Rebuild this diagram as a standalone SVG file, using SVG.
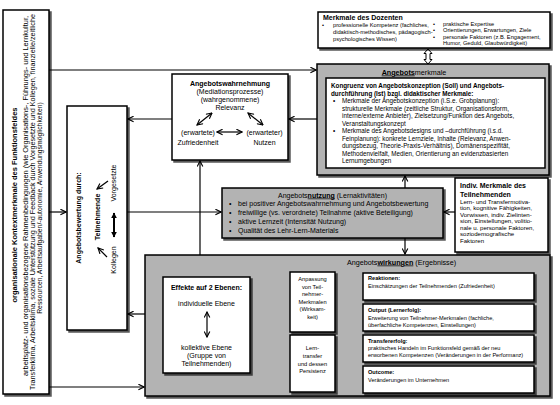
<svg xmlns="http://www.w3.org/2000/svg" width="560" height="405" viewBox="0 0 560 405">
<style>
text{font-family:"Liberation Sans",Arial,sans-serif;fill:#000}
.box{fill:#fff;stroke:#000;stroke-width:1.5;filter:url(#sh)}
.gbox{fill:#b3b3b3;stroke:#000;stroke-width:1.5;filter:url(#sh)}
.b{font-weight:bold}
.u{font-weight:bold;text-decoration:underline}
.c{text-anchor:middle}
.f7{font-size:7px}
.f6{font-size:6.3px}
.f57{font-size:5.7px}
.f55{font-size:5.6px}
.ln{fill:none;stroke:#000;stroke-width:1.2}
.arr{marker-end:url(#a)}
.dbl{marker-start:url(#a);marker-end:url(#a)}
</style>
<defs>
<filter id="sh" x="-10%" y="-10%" width="130%" height="130%">
<feDropShadow dx="2" dy="2" stdDeviation="0.7" flood-color="#000" flood-opacity="0.65"/>
</filter>
<marker id="a" viewBox="0 0 10 10" refX="9" refY="5" markerWidth="7" markerHeight="7" markerUnits="userSpaceOnUse" orient="auto-start-reverse">
<path d="M1,1 L9,5 L1,9" fill="none" stroke="#000" stroke-width="1.6"/>
</marker>
<marker id="f" viewBox="0 0 10 10" refX="9" refY="5" markerWidth="6" markerHeight="6" markerUnits="userSpaceOnUse" orient="auto-start-reverse">
<path d="M0,0 L10,5 L0,10 Z" fill="#000"/>
</marker>
</defs>

<g id="connectors">
<path class="ln arr" d="M49,70 H316"/>
<path class="ln arr" d="M49,212 H66"/>
<path class="ln arr" d="M49,387 H144"/>
<path class="ln arr" d="M172,119 H128"/>
<path class="ln arr" d="M317,119 H289"/>
<path class="ln arr" d="M127,212 H221"/>
<path class="ln arr" d="M200,255 V161"/>
<path class="ln arr" d="M145,314 H128"/>
<path class="ln arr" d="M405,188 V176"/>
<path class="ln arr" d="M405,238 V254"/>
<path class="ln arr" d="M455,212 H444"/>
<path class="ln arr" d="M250,302 H289"/>
<path class="ln arr" d="M250,352 H289"/>
<path class="ln arr" d="M335,287 H362"/>
<path class="ln arr" d="M335,317 H362"/>
<path class="ln arr" d="M335,349 H362"/>
<path class="ln arr" d="M335,378 H362"/>
<polygon points="428,49 432,53.5 430,53.5 430,59.5 432,59.5 428,64 424,59.5 426,59.5 426,53.5 424,53.5" fill="#fff" stroke="#000" stroke-width="1"/>
</g>

<g id="kontext">
<rect class="box" x="3" y="10" width="46" height="384"/>
<text class="b c" font-size="7.5" transform="translate(17,205) rotate(-90)">organisationale Kontextmerkmale des Funktionsfeldes</text>
<text class="c" font-size="6.8" transform="translate(27.5,196) rotate(-90)" textLength="360" lengthAdjust="spacingAndGlyphs">arbeitsplatz- und organisationsbezogene Rahmenbedingungen (wie Organisations-, Führungs- und Lernkultur,</text>
<text class="c" font-size="6.8" transform="translate(34.5,202) rotate(-90)" textLength="376" lengthAdjust="spacingAndGlyphs">Transferklima, Arbeitsklima, soziale Unterstützung und Feedback durch Vorgesetzte und Kollegen, finanzielle/zeitliche</text>
<text class="c" font-size="6.8" transform="translate(41.5,208) rotate(-90)">Ressourcen, Arbeitsaufgaben/-autonomie, Anwendungsmöglichkeiten)</text>
</g>

<g id="dozenten">
<rect class="box" x="318" y="12" width="232" height="36"/>
<text class="b" font-size="7" x="323" y="19.5">Merkmale des Dozenten</text>
<g class="f57">
<text x="322" y="27">•</text>
<text x="333" y="27">professionelle Kompetenz (fachliches,</text>
<text x="333" y="34">didaktisch-methodisches, pädagogisch-</text>
<text x="333" y="41">psychologisches Wissen)</text>
<text x="433" y="26">•</text>
<text x="433" y="32">•</text>
<text x="433" y="39">•</text>
<text x="443" y="26">praktische Expertise</text>
<text x="443" y="32">Orientierungen, Erwartungen, Ziele</text>
<text x="443" y="39">personale Faktoren (z.B. Engagement,</text>
<text x="443" y="45">Humor, Geduld, Glaubwürdigkeit)</text>
</g>
</g>

<g id="merkmale">
<rect class="gbox" x="317" y="64" width="232" height="111"/>
<text class="c" font-size="7.2" x="414" y="74.5"><tspan class="u">Angebots</tspan>merkmale</text>
<rect x="326" y="78" width="219" height="90" fill="#fff" stroke="#000" stroke-width="1.5"/>
<g class="f6">
<text class="b" x="331" y="88">Kongruenz von Angebotskonzeption (Soll) und Angebots-</text>
<text class="b" x="331" y="95.5">durchführung (Ist) bzgl. didaktischer Merkmale:</text>
<text x="333" y="103">•</text>
<text x="342" y="103">Merkmale der Angebotskonzeption (i.S.e. Grobplanung):</text>
<text x="342" y="110.5">strukturelle Merkmale (zeitliche Struktur, Organisationsform,</text>
<text x="342" y="118">interne/externe Anbieter), Zielsetzung/Funktion des Angebots,</text>
<text x="342" y="125.5">Veranstaltungskonzept</text>
<text x="333" y="133">•</text>
<text x="342" y="133">Merkmale des Angebotsdesigns und –durchführung (i.s.d.</text>
<text x="342" y="140.5">Feinplanung): konkrete Lernziele, Inhalte (Relevanz, Anwen-</text>
<text x="342" y="148">dungsbezug, Theorie-Praxis-Verhältnis), Domänenspezifität,</text>
<text x="342" y="155.5">Methodenvielfalt, Medien, Orientierung an evidenzbasierten</text>
<text x="342" y="163">Lernumgebungen</text>
</g>
</g>

<g id="wahrnehmung">
<rect class="box" x="172" y="74" width="116" height="86"/>
<g class="c f7">
<text class="b" x="230" y="85.5">Angebotswahrnehmung</text>
<text x="230" y="93.5">(Mediationsprozesse)</text>
<text x="230" y="101.5">(wahrgenommene)</text>
<text x="230" y="110">Relevanz</text>
<text x="198" y="134.5">(erwartete)</text>
<text x="198" y="144.5">Zufriedenheit</text>
<text x="264.5" y="134.5">(erwarteter)</text>
<text x="264.5" y="144.5">Nutzen</text>
</g>
<path class="ln dbl" d="M217,132 H242"/>
<path class="ln dbl" d="M197,125 L212,113"/>
<path class="ln dbl" d="M248,113 L263,125"/>
</g>

<g id="bewertung">
<rect class="box" x="67" y="106" width="60" height="224"/>
<text class="b c f7" transform="translate(80.5,218) rotate(-90)">Angebotsbewertung durch:</text>
<text class="b c f7" transform="translate(99.5,217) rotate(-90)">Teilnehmende</text>
<text class="c f7" transform="translate(115.5,183) rotate(-90)">Vorgesetzte</text>
<text class="c f7" transform="translate(115.5,260) rotate(-90)">Kollegen</text>
<path class="ln arr" d="M108,181 L97,189"/>
<path class="ln arr" d="M107,257 L98,248"/>
<path d="M114,213 V237" fill="none" stroke="#000" stroke-width="2" marker-start="url(#f)" marker-end="url(#f)"/>
</g>

<g id="nutzung">
<rect class="gbox" x="222" y="188" width="221" height="50"/>
<g class="f7">
<text class="c" x="332.5" y="197.5">Angebots<tspan class="u">nutzung</tspan> (Lernaktivitäten)</text>
<text x="229" y="206">•</text>
<text x="229" y="215">•</text>
<text x="229" y="224">•</text>
<text x="229" y="233">•</text>
<text x="238" y="206">bei positiver Angebotswahrnehmung und Angebotsbewertung</text>
<text x="238" y="215">freiwillige (vs. verordnete) Teilnahme (aktive Beteiligung)</text>
<text x="238" y="224">aktive Lernzeit (Intensität Nutzung)</text>
<text x="238" y="233">Qualität des Lehr-Lern-Materials</text>
</g>
</g>

<g id="teilnehmende">
<rect class="box" x="455" y="178" width="93" height="74"/>
<text class="b f7" x="460" y="188">Indiv. Merkmale des</text>
<text class="b f7" x="460" y="197">Teilnehmenden</text>
<g font-size="6.1">
<text x="460" y="203.5">Lern- und Transfermotiva-</text>
<text x="460" y="210">tion, kognitive Fähigkeiten,</text>
<text x="460" y="216.5">Vorwissen, indiv. Zielinten-</text>
<text x="460" y="223">sion, Einstellungen, volitio-</text>
<text x="460" y="229.5">nale u. personale Faktoren,</text>
<text x="460" y="236">soziodemografische</text>
<text x="460" y="242.5">Faktoren</text>
</g>
</g>

<g id="wirkungen">
<rect class="gbox" x="145" y="255" width="405" height="141"/>
<text font-size="7.2" x="347" y="264.5">Angebots<tspan class="u">wirkungen</tspan> (Ergebnisse)</text>
</g>

<g id="effekte">
<rect class="box" x="163" y="277" width="87" height="96"/>
<g class="c f7">
<text class="b" x="206.5" y="289.5">Effekte auf 2 Ebenen:</text>
<text x="206.5" y="305.5">individuelle Ebene</text>
<text x="206.5" y="349.5">kollektive Ebene</text>
<text x="206.5" y="357.5">(Gruppe von</text>
<text x="206.5" y="365.5">Teilnehmenden)</text>
</g>
<path class="ln dbl" d="M207,312 V337"/>
</g>

<g id="anpassung">
<rect class="box" x="290" y="272" width="45" height="60"/>
<g class="c f57">
<text x="312.5" y="281">Anpassung</text>
<text x="312.5" y="288.5">von Teil-</text>
<text x="312.5" y="296">nehmer-</text>
<text x="312.5" y="303.5">Merkmalen</text>
<text x="312.5" y="311">(Wirksam-</text>
<text x="312.5" y="318.5">keit)</text>
</g>
</g>

<g id="lerntransfer">
<rect class="box" x="290" y="335" width="45" height="57"/>
<g class="c f57">
<text x="312.5" y="350">Lern-</text>
<text x="312.5" y="357.8">transfer</text>
<text x="312.5" y="365.6">und dessen</text>
<text x="312.5" y="373.4">Persistenz</text>
</g>
</g>

<g id="reaktionen">
<rect class="box" x="363" y="273" width="171" height="27"/>
<text class="b f55" x="368" y="280">Reaktionen:</text>
<text class="f55" x="368" y="288">Einschätzungen der Teilnehmenden (Zufriedenheit)</text>
</g>

<g id="output">
<rect class="box" x="363" y="304" width="171" height="27"/>
<text class="b f55" x="368" y="312">Output (Lernerfolg):</text>
<text class="f55" x="368" y="319.5">Erweiterung von Teilnehmer-Merkmalen (fachliche,</text>
<text class="f55" x="368" y="327">überfachliche Kompetenzen, Einstellungen)</text>
</g>

<g id="transfererfolg">
<rect class="box" x="363" y="335" width="171" height="27"/>
<text class="b f55" x="368" y="343">Transfererfolg:</text>
<text class="f55" x="368" y="350">praktisches Handeln im Funktionsfeld gemäß der neu</text>
<text class="f55" x="368" y="357">erworbenen Kompetenzen (Veränderungen in der Performanz)</text>
</g>

<g id="outcome">
<rect class="box" x="363" y="366" width="171" height="27"/>
<text class="b f55" x="368" y="374">Outcome:</text>
<text class="f55" x="368" y="381.5">Veränderungen im Unternehmen</text>
</g>
</svg>
